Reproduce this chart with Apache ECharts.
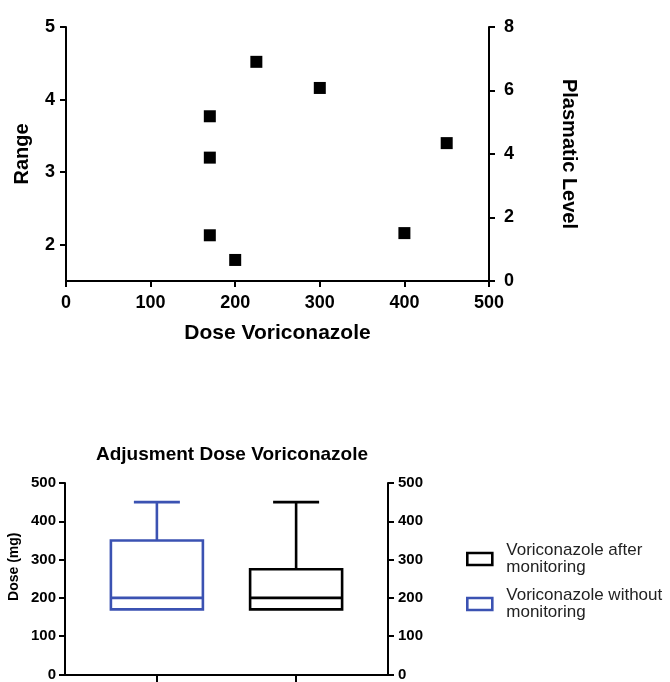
<!DOCTYPE html>
<html>
<head>
<meta charset="utf-8">
<script src="https://cdn.jsdelivr.net/npm/echarts@6/dist/echarts.min.js"></script>
<style>
html,body{margin:0;padding:0;background:#fff;}
#chart{width:670px;height:682px;}
</style>
</head>
<body>
<div id="chart"></div>
<script>
// ---- Top scatter data ----
const doseX = [170, 170, 170, 200, 225, 300, 400, 450];
const rangeY = [3.77, 3.20, 2.13, 1.79, 4.52, 4.16, 2.16, 3.40];
const rangeTicks = [2, 3, 4, 5];

// ---- Bottom box plot data ----
const boxNames = ['Voriconazole without monitoring', 'Voriconazole after monitoring'];
const boxPos = [1, 2];
const boxMin = [170, 170];
const boxQ1 = [170, 170];
const boxMedian = [200, 200];
const boxQ3 = [350, 275];
const boxMax = [450, 450];
const boxColors = ['#3b52b2', '#000000'];
const legendLabels = ['Voriconazole after\nmonitoring', 'Voriconazole without\nmonitoring'];

const FONT = "'Liberation Sans', Arial, Helvetica, sans-serif";
const axisLine = { show: true, lineStyle: { color: '#000', width: 2 } };

function boxRender(params, api) {
  const x = api.value(0);
  const vmin = api.value(1), q1 = api.value(2), med = api.value(3), q3 = api.value(4), vmax = api.value(5);
  const pQ1 = api.coord([x, q1]);
  const pQ3 = api.coord([x, q3]);
  const pMed = api.coord([x, med]);
  const pMax = api.coord([x, vmax]);
  const pMin = api.coord([x, vmin]);
  const half = 46, capHalf = 23;
  const color = api.visual('color');
  const st = { stroke: color, lineWidth: 2.6, fill: null };
  const cx = pQ1[0];
  const children = [
    { type: 'rect', shape: { x: cx - half, y: pQ3[1], width: half * 2, height: pQ1[1] - pQ3[1] }, style: st },
    { type: 'line', shape: { x1: cx - half, y1: pMed[1], x2: cx + half, y2: pMed[1] }, style: st }
  ];
  if (vmax > q3) {
    children.push({ type: 'line', shape: { x1: cx, y1: pQ3[1], x2: cx, y2: pMax[1] }, style: st });
    children.push({ type: 'line', shape: { x1: cx - capHalf, y1: pMax[1], x2: cx + capHalf, y2: pMax[1] }, style: st });
  }
  if (vmin < q1) {
    children.push({ type: 'line', shape: { x1: cx, y1: pQ1[1], x2: cx, y2: pMin[1] }, style: st });
    children.push({ type: 'line', shape: { x1: cx - capHalf, y1: pMin[1], x2: cx + capHalf, y2: pMin[1] }, style: st });
  }
  return { type: 'group', children: children };
}

const chart = echarts.init(document.getElementById('chart'), null, { renderer: 'canvas' });

const option = {
  backgroundColor: '#fff',
  animation: false,
  textStyle: { fontFamily: FONT },
  title: {
    text: 'Adjusment Dose Voriconazole',
    left: 227, top: 440, textAlign: 'center',
    textStyle: { fontFamily: FONT, fontWeight: 'bold', fontSize: 19, color: '#000' }
  },
  legend: {
    orient: 'vertical',
    left: 466, top: 542,
    padding: 0,
    itemWidth: 25, itemHeight: 12,
    itemGap: 11,
    icon: 'rect',
    selectedMode: false,
    data: [
      { name: boxNames[1], itemStyle: { color: '#fff', borderColor: boxColors[1], borderWidth: 2.6 } },
      { name: boxNames[0], itemStyle: { color: '#fff', borderColor: boxColors[0], borderWidth: 2.6 } }
    ],
    formatter: function (name) { return name === boxNames[1] ? legendLabels[0] : legendLabels[1]; },
    textStyle: { fontFamily: FONT, fontSize: 17, lineHeight: 17, color: '#222', padding: [0, 0, 0, 9] }
  },
  grid: [
    { left: 66, right: 181, top: 27, bottom: 401, containLabel: false },
    { left: 65, right: 282, top: 483, bottom: 6, containLabel: false }
  ],
  xAxis: [
    {
      gridIndex: 0, type: 'value', min: 0, max: 500, interval: 100,
      name: 'Dose Voriconazole', nameLocation: 'middle', nameGap: 42,
      nameTextStyle: { fontFamily: FONT, fontWeight: 'bold', fontSize: 21, color: '#000' },
      axisLine: axisLine,
      axisTick: { show: true, inside: false, length: 6, lineStyle: { color: '#000', width: 2 } },
      axisLabel: { fontFamily: FONT, fontWeight: 'bold', fontSize: 18, color: '#000', margin: 13 },
      splitLine: { show: false }
    },
    {
      gridIndex: 1, type: 'value', min: 0.34, max: 2.66,
      axisLine: axisLine,
      axisTick: { show: true, inside: false, length: 8, customValues: boxPos, lineStyle: { color: '#000', width: 2 } },
      axisLabel: { show: false },
      splitLine: { show: false }
    }
  ],
  yAxis: [
    {
      gridIndex: 0, type: 'value', min: 1.5, max: 5, position: 'left',
      name: 'Range', nameLocation: 'middle', nameGap: 34, nameRotate: 90,
      nameTextStyle: { fontFamily: FONT, fontWeight: 'bold', fontSize: 20, color: '#000' },
      axisLine: axisLine,
      axisTick: { show: true, inside: false, length: 6, customValues: rangeTicks, lineStyle: { color: '#000', width: 2 } },
      axisLabel: { fontFamily: FONT, fontWeight: 'bold', fontSize: 18, color: '#000', margin: 11, customValues: rangeTicks },
      splitLine: { show: false }
    },
    {
      gridIndex: 0, type: 'value', min: 0, max: 8, interval: 2, position: 'right',
      name: 'Plasmatic Level', nameLocation: 'middle', nameGap: 70, nameRotate: -90,
      nameTextStyle: { fontFamily: FONT, fontWeight: 'bold', fontSize: 20, color: '#000' },
      axisLine: axisLine,
      axisTick: { show: true, inside: false, length: 6, lineStyle: { color: '#000', width: 2 } },
      axisLabel: { fontFamily: FONT, fontWeight: 'bold', fontSize: 18, color: '#000', margin: 15 },
      splitLine: { show: false }
    },
    {
      gridIndex: 1, type: 'value', min: 0, max: 500, interval: 100, position: 'left',
      name: 'Dose (mg)', nameLocation: 'middle', nameGap: 44, nameRotate: 90,
      nameTextStyle: { fontFamily: FONT, fontWeight: 'bold', fontSize: 14, color: '#000', padding: [0, 0, 0, 24] },
      axisLine: axisLine,
      axisTick: { show: true, inside: false, length: 6, lineStyle: { color: '#000', width: 2 } },
      axisLabel: { fontFamily: FONT, fontWeight: 'bold', fontSize: 15, color: '#000', margin: 9 },
      splitLine: { show: false }
    },
    {
      gridIndex: 1, type: 'value', min: 0, max: 500, interval: 100, position: 'right',
      axisLine: axisLine,
      axisTick: { show: true, inside: false, length: 6, lineStyle: { color: '#000', width: 2 } },
      axisLabel: { fontFamily: FONT, fontWeight: 'bold', fontSize: 15, color: '#000', margin: 10 },
      splitLine: { show: false }
    }
  ],
  series: [
    {
      type: 'scatter', xAxisIndex: 0, yAxisIndex: 0,
      symbol: 'rect', symbolSize: 12,
      itemStyle: { color: '#000', opacity: 1 },
      data: doseX.map((x, i) => [x, rangeY[i]])
    },
    {
      type: 'custom', name: boxNames[0], xAxisIndex: 1, yAxisIndex: 2,
      itemStyle: { color: boxColors[0] },
      renderItem: boxRender,
      encode: { x: 0, y: [1, 2, 3, 4, 5] },
      data: [[boxPos[0], boxMin[0], boxQ1[0], boxMedian[0], boxQ3[0], boxMax[0]]]
    },
    {
      type: 'custom', name: boxNames[1], xAxisIndex: 1, yAxisIndex: 2,
      itemStyle: { color: boxColors[1] },
      renderItem: boxRender,
      encode: { x: 0, y: [1, 2, 3, 4, 5] },
      data: [[boxPos[1], boxMin[1], boxQ1[1], boxMedian[1], boxQ3[1], boxMax[1]]]
    }
  ]
};
chart.setOption(option);
</script>
</body>
</html>
